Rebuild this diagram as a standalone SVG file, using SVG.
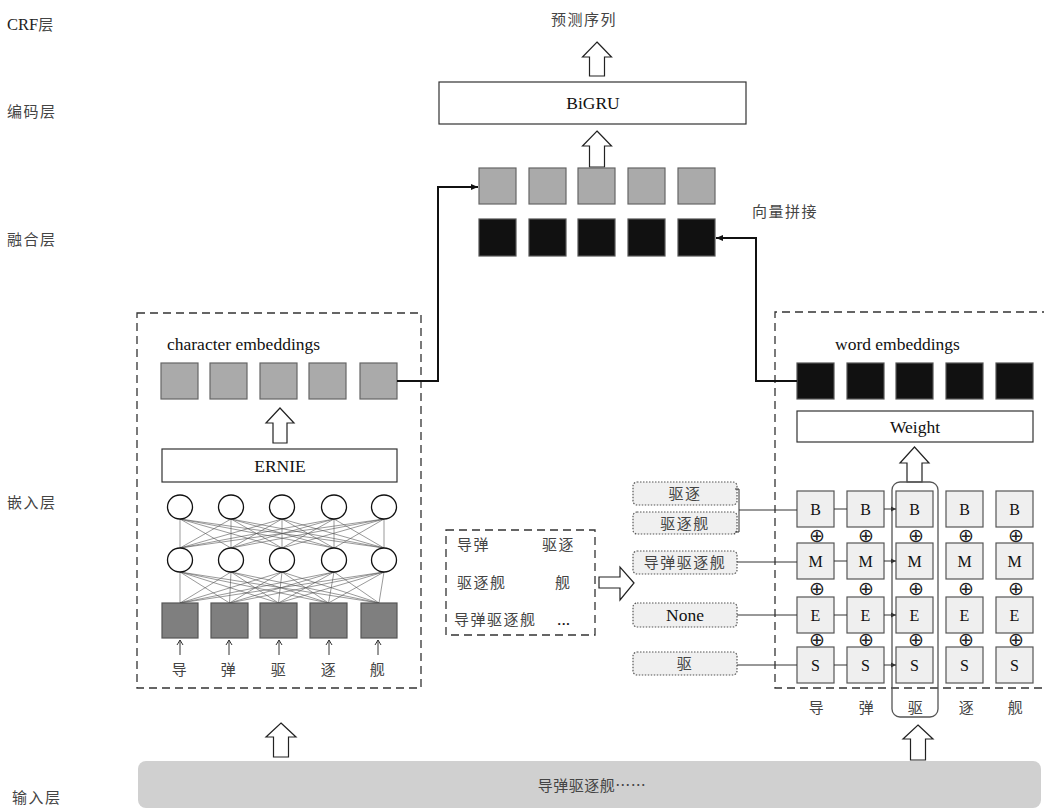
<svg xmlns="http://www.w3.org/2000/svg" width="1044" height="810" viewBox="0 0 1044 810">
<style>
text{font-family:"Liberation Serif","Noto Sans CJK SC",serif;}
.cjk{font-family:"Noto Sans CJK SC","Liberation Serif",sans-serif;fill:#444;font-size:15px;letter-spacing:1.5px;}
.lat{fill:#111;font-size:17.5px;}
.hollow{fill:#fff;stroke:#222;stroke-width:1.2;}
.gray{fill:#aaa;stroke:#666;stroke-width:1.2;}
.black{fill:#111;stroke:#555;stroke-width:1.2;}
.dark{fill:#7f7f7f;stroke:#555;stroke-width:1.2;}
.cell{fill:#efefef;stroke:#555;stroke-width:1.2;}
.dot{fill:#f0f0f0;stroke:#555;stroke-width:1.2;stroke-dasharray:1.5,1.5;}
.dash{fill:none;stroke:#333;stroke-width:1.3;stroke-dasharray:8,5;}
.plain{fill:#fff;stroke:#333;stroke-width:1.2;}
.thick{fill:none;stroke:#111;stroke-width:2;}
.thin{fill:none;stroke:#333;stroke-width:1;}
.net{fill:none;stroke:#555;stroke-width:0.6;}
.circ{fill:#fff;stroke:#111;stroke-width:1.3;}
.op{font-family:"DejaVu Sans",sans-serif;font-size:19px;fill:#222;}
</style>
<defs>
<marker id="ah" markerUnits="userSpaceOnUse" markerWidth="8" markerHeight="8" refX="7" refY="4" orient="auto"><path d="M0,1 L7,4 L0,7 z" fill="#111"/></marker>
<marker id="ahs" markerUnits="userSpaceOnUse" markerWidth="6" markerHeight="6" refX="5" refY="3" orient="auto"><path d="M0,0.5 L5,3 L0,5.5 z" fill="#333"/></marker>
</defs>
<rect width="1044" height="810" fill="#fff"/>

<g id="layer-labels">
<text x="7" y="30" font-size="16.5" fill="#222">CRF<tspan class="cjk" style="font-size:15px">层</tspan></text>
<text class="cjk" x="7" y="117">编码层</text>
<text class="cjk" x="7" y="245">融合层</text>
<text class="cjk" x="7" y="508">嵌入层</text>
<text class="cjk" x="12" y="803">输入层</text>
</g>

<g id="output">
<text class="cjk" x="584" y="25" text-anchor="middle">预测序列</text>
<polygon class="hollow" points="597,42 611.5,57 604.5,57 604.5,76 589.5,76 589.5,57 582.5,57"/>
</g>

<g id="bigru">
<rect class="plain" x="439" y="82" width="307" height="42"/>
<text class="lat" x="593" y="109" text-anchor="middle" font-size="18">BiGRU</text>
<polygon class="hollow" points="597,131 611.5,146 604.5,146 604.5,167 589.5,167 589.5,146 582.5,146"/>
</g>

<g id="fusion">
<rect class="gray" x="479" y="168" width="37" height="36"/>
<rect class="gray" x="529" y="168" width="37" height="36"/>
<rect class="gray" x="578" y="168" width="37" height="36"/>
<rect class="gray" x="628" y="168" width="37" height="36"/>
<rect class="gray" x="678" y="168" width="37" height="36"/>
<rect class="black" x="479" y="219" width="37" height="37"/>
<rect class="black" x="529" y="219" width="37" height="37"/>
<rect class="black" x="578" y="219" width="37" height="37"/>
<rect class="black" x="628" y="219" width="37" height="37"/>
<rect class="black" x="678" y="219" width="37" height="37"/>
<text class="cjk" x="752" y="217">向量拼接</text>
</g>

<g id="char-embed">
<rect class="dash" x="137" y="313" width="284" height="375"/>
<text class="lat" x="167" y="350">character embeddings</text>
<rect class="gray" x="161" y="363" width="37" height="36"/>
<rect class="gray" x="210" y="363" width="37" height="36"/>
<rect class="gray" x="260" y="363" width="37" height="36"/>
<rect class="gray" x="309" y="363" width="37" height="36"/>
<rect class="gray" x="360" y="363" width="37" height="36"/>
<polygon class="hollow" points="280,408 294,423 287,423 287,443 273,443 273,423 266,423"/>
<rect class="plain" x="162" y="449" width="235" height="33"/>
<text class="lat" x="280" y="472" text-anchor="middle">ERNIE</text>
<path class="net" d="M180 603L180 572M180 603L231 572M180 603L282 572M180 603L334 572M180 603L384 572
M229.5 603L180 572M229.5 603L231 572M229.5 603L282 572M229.5 603L334 572M229.5 603L384 572
M278.5 603L180 572M278.5 603L231 572M278.5 603L282 572M278.5 603L334 572M278.5 603L384 572
M328.5 603L180 572M328.5 603L231 572M328.5 603L282 572M328.5 603L334 572M328.5 603L384 572
M379 603L180 572M379 603L231 572M379 603L282 572M379 603L334 572M379 603L384 572"/>
<path class="net" d="M180 548L180 519M180 548L231 519M180 548L282 519M180 548L334 519M180 548L384 519
M231 548L180 519M231 548L231 519M231 548L282 519M231 548L334 519M231 548L384 519
M282 548L180 519M282 548L231 519M282 548L282 519M282 548L334 519M282 548L384 519
M334 548L180 519M334 548L231 519M334 548L282 519M334 548L334 519M334 548L384 519
M384 548L180 519M384 548L231 519M384 548L282 519M384 548L334 519M384 548L384 519"/>
<ellipse class="circ" cx="180" cy="507" rx="12.5" ry="12"/>
<ellipse class="circ" cx="231" cy="507" rx="12.5" ry="12"/>
<ellipse class="circ" cx="282" cy="507" rx="12.5" ry="12"/>
<ellipse class="circ" cx="334" cy="507" rx="12.5" ry="12"/>
<ellipse class="circ" cx="384" cy="507" rx="12.5" ry="12"/>
<ellipse class="circ" cx="180" cy="560" rx="12.5" ry="12"/>
<ellipse class="circ" cx="231" cy="560" rx="12.5" ry="12"/>
<ellipse class="circ" cx="282" cy="560" rx="12.5" ry="12"/>
<ellipse class="circ" cx="334" cy="560" rx="12.5" ry="12"/>
<ellipse class="circ" cx="384" cy="560" rx="12.5" ry="12"/>
<rect class="dark" x="162" y="603" width="36" height="35"/>
<rect class="dark" x="211" y="603" width="37" height="35"/>
<rect class="dark" x="260" y="603" width="37" height="35"/>
<rect class="dark" x="310" y="603" width="37" height="35"/>
<rect class="dark" x="361" y="603" width="36" height="35"/>
<path class="thin" d="M180 655V640M177 645L180 640L183 645M229 655V640M226 645L229 640L232 645M279 655V640M276 645L279 640L282 645M329 655V640M326 645L329 640L332 645M378 655V640M375 645L378 640L381 645"/>
<text class="cjk" x="180" y="675" text-anchor="middle">导</text>
<text class="cjk" x="229" y="675" text-anchor="middle">弹</text>
<text class="cjk" x="279" y="675" text-anchor="middle">驱</text>
<text class="cjk" x="329" y="675" text-anchor="middle">逐</text>
<text class="cjk" x="378" y="675" text-anchor="middle">舰</text>
</g>

<g id="lexicon">
<rect class="dash" x="446" y="530" width="149" height="105"/>
<text class="cjk" x="457" y="550">导弹</text>
<text class="cjk" x="542" y="550">驱逐</text>
<text class="cjk" x="457" y="588">驱逐舰</text>
<text class="cjk" x="555" y="588">舰</text>
<text class="cjk" x="454" y="625">导弹驱逐舰</text>
<text class="lat" x="557" y="625" font-size="15">...</text>
<polygon class="hollow" points="634,583 620,567 620,577 599,577 599,588 620,588 620,600"/>
</g>

<g id="word-labels">
<rect class="dot" x="633" y="482" width="104" height="23" rx="4"/>
<text class="cjk" x="685" y="499" text-anchor="middle">驱逐</text>
<rect class="dot" x="633" y="512" width="104" height="22" rx="4"/>
<text class="cjk" x="685" y="529" text-anchor="middle">驱逐舰</text>
<rect class="dot" x="633" y="551" width="104" height="23" rx="4"/>
<text class="cjk" x="685" y="568" text-anchor="middle">导弹驱逐舰</text>
<rect class="dot" x="633" y="603" width="104" height="24" rx="4"/>
<text class="lat" x="685" y="621" text-anchor="middle" font-size="17">None</text>
<rect class="dot" x="633" y="652" width="104" height="23" rx="4"/>
<text class="cjk" x="685" y="669" text-anchor="middle">驱</text>
</g>

<g id="word-embed">
<path class="dash" d="M1050 312H775V688H1050"/>
<text class="lat" x="835" y="350">word embeddings</text>
<rect class="black" x="797" y="363" width="37" height="36"/>
<rect class="black" x="847" y="363" width="37" height="36"/>
<rect class="black" x="896" y="363" width="37" height="36"/>
<rect class="black" x="946" y="363" width="37" height="36"/>
<rect class="black" x="996" y="363" width="37" height="36"/>
<rect class="plain" x="797" y="411" width="236" height="31"/>
<text class="lat" x="915" y="433" text-anchor="middle">Weight</text>
<polygon class="hollow" points="914.5,447 929,463 922,463 922,482 907,482 907,463 900,463"/>
<rect x="892" y="482" width="46" height="235" rx="8" fill="none" stroke="#555" stroke-width="1.3"/>
</g>

<g id="bmes">
<g font-size="16" fill="#111" text-anchor="middle">
<rect class="cell" x="797" y="491" width="37" height="36"/><text x="815.5" y="515">B</text>
<rect class="cell" x="847" y="491" width="37" height="36"/><text x="865.5" y="515">B</text>
<rect class="cell" x="896" y="491" width="37" height="36"/><text x="914.5" y="515">B</text>
<rect class="cell" x="946" y="491" width="37" height="36"/><text x="964.5" y="515">B</text>
<rect class="cell" x="996" y="491" width="37" height="36"/><text x="1014.5" y="515">B</text>
<rect class="cell" x="797" y="543" width="37" height="36"/><text x="815.5" y="567">M</text>
<rect class="cell" x="847" y="543" width="37" height="36"/><text x="865.5" y="567">M</text>
<rect class="cell" x="896" y="543" width="37" height="36"/><text x="914.5" y="567">M</text>
<rect class="cell" x="946" y="543" width="37" height="36"/><text x="964.5" y="567">M</text>
<rect class="cell" x="996" y="543" width="37" height="36"/><text x="1014.5" y="567">M</text>
<rect class="cell" x="797" y="597" width="37" height="36"/><text x="815.5" y="621">E</text>
<rect class="cell" x="847" y="597" width="37" height="36"/><text x="865.5" y="621">E</text>
<rect class="cell" x="896" y="597" width="37" height="36"/><text x="914.5" y="621">E</text>
<rect class="cell" x="946" y="597" width="37" height="36"/><text x="964.5" y="621">E</text>
<rect class="cell" x="996" y="597" width="37" height="36"/><text x="1014.5" y="621">E</text>
<rect class="cell" x="797" y="647" width="37" height="36"/><text x="815.5" y="671">S</text>
<rect class="cell" x="847" y="647" width="37" height="36"/><text x="865.5" y="671">S</text>
<rect class="cell" x="896" y="647" width="37" height="36"/><text x="914.5" y="671">S</text>
<rect class="cell" x="946" y="647" width="37" height="36"/><text x="964.5" y="671">S</text>
<rect class="cell" x="996" y="647" width="37" height="36"/><text x="1014.5" y="671">S</text>
</g>
<g text-anchor="middle">
<text class="op" x="817" y="542">⊕</text><text class="op" x="866" y="542">⊕</text><text class="op" x="916" y="542">⊕</text><text class="op" x="966" y="542">⊕</text><text class="op" x="1016" y="542">⊕</text>
<text class="op" x="817" y="595">⊕</text><text class="op" x="866" y="595">⊕</text><text class="op" x="916" y="595">⊕</text><text class="op" x="966" y="595">⊕</text><text class="op" x="1016" y="595">⊕</text>
<text class="op" x="817" y="646">⊕</text><text class="op" x="866" y="646">⊕</text><text class="op" x="916" y="646">⊕</text><text class="op" x="966" y="646">⊕</text><text class="op" x="1016" y="646">⊕</text>
</g>
<text class="cjk" x="817" y="713" text-anchor="middle">导</text>
<text class="cjk" x="867" y="713" text-anchor="middle">弹</text>
<text class="cjk" x="916" y="713" text-anchor="middle">驱</text>
<text class="cjk" x="967" y="713" text-anchor="middle">逐</text>
<text class="cjk" x="1016" y="713" text-anchor="middle">舰</text>
</g>

<g id="input">
<polygon class="hollow" points="281,723 296,737 288.5,737 288.5,757 273.5,757 273.5,737 266,737"/>
<polygon class="hollow" points="918,725 933,739 925.5,739 925.5,760 910.5,760 910.5,739 903,739"/>
<rect x="138" y="761" width="903" height="47" rx="8" fill="#d0d0d0"/>
<text class="cjk" x="592" y="791" text-anchor="middle" style="letter-spacing:0.5px">导弹驱逐舰……</text>
</g>

<g id="connectors">
<path class="thick" d="M397 381H438V187H478" marker-end="url(#ah)"/>
<path class="thick" d="M797 381H756V238H716" marker-end="url(#ah)"/>
<path class="thin" d="M735 489H739V532H735M739 510H797"/>
<path class="thin" d="M737 562H797M737 615H797M737 665H797"/>
<path class="thin" d="M834 509H847M834 561H847M834 615H847M834 665H847"/>
<path class="thin" d="M884 509H896" marker-end="url(#ahs)"/>
<path class="thin" d="M884 561H896" marker-end="url(#ahs)"/>
<path class="thin" d="M884 615H896" marker-end="url(#ahs)"/>
<path class="thin" d="M884 665H896" marker-end="url(#ahs)"/>
</g>
</svg>
